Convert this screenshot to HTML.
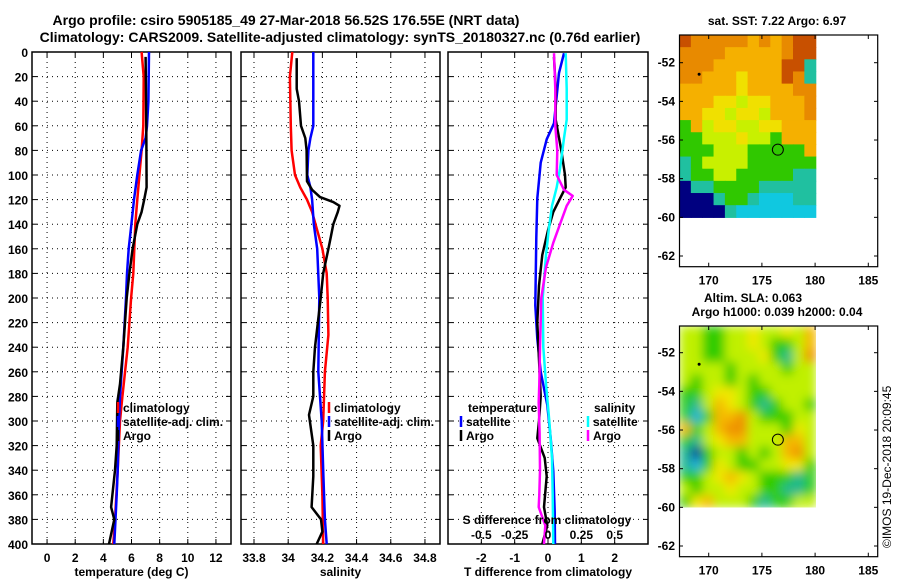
<!DOCTYPE html>
<html><head><meta charset="utf-8">
<style>
html,body{margin:0;padding:0;background:#fff;}
svg{display:block;font-family:"Liberation Sans",sans-serif;font-weight:bold;}
</style></head>
<body>
<svg id="fig" width="900" height="580" viewBox="0 0 900 580" xmlns="http://www.w3.org/2000/svg">
<g id="g"></g>
<text x="286" y="25" font-size="14" text-anchor="middle">Argo profile: csiro 5905185_49 27-Mar-2018 56.52S 176.55E (NRT data)</text>
<text x="340" y="42" font-size="14" text-anchor="middle">Climatology: CARS2009. Satellite-adjusted climatology: synTS_20180327.nc (0.76d earlier)</text>
<text x="777" y="25" font-size="12" text-anchor="middle">sat. SST: 7.22 Argo: 6.97</text>
<text x="753" y="302" font-size="12" text-anchor="middle">Altim. SLA: 0.063</text>
<text x="777" y="316" font-size="12" text-anchor="middle">Argo h1000: 0.039 h2000: 0.04</text>
<text transform="translate(891,548) rotate(-90)" font-size="12" font-weight="normal">©IMOS 19-Dec-2018 20:09:45</text>
</svg>
<script>
// ---- data ----
var depthTempClim=[0,20,60,80,100,120,140,160,180,200,240,280,300,340,380,400];
var tempClim=[6.72,6.87,6.84,6.72,6.56,6.41,6.27,6.2,6.13,5.97,5.73,5.35,5.18,5.02,4.83,4.71];
var depthTempSat=[0,40,60,70,80,100,120,140,160,180,200,240,280,300,340,360,400];
var tempSat=[7.24,7.2,7.1,7.0,6.68,6.41,6.18,5.99,5.8,5.68,5.61,5.42,5.18,5.11,5.02,4.95,4.78];
var depthTempArgo=[4,60,110,120,130,140,160,180,200,240,270,285,320,340,360,370,380,400];
var tempArgo=[7.0,7.05,7.07,6.9,6.72,6.41,6.08,5.85,5.66,5.42,5.18,4.99,4.95,4.83,4.64,4.55,4.78,4.4];

var depthSalClim=[0,20,60,80,100,110,120,130,140,160,180,200,230,260,300,320,360,400];
var salClim=[34.024,34.01,34.015,34.02,34.04,34.07,34.11,34.14,34.16,34.2,34.225,34.231,34.235,34.215,34.205,34.19,34.2,34.205];
var depthSalSat=[0,60,70,80,100,110,120,140,160,200,260,300,340,380,400];
var salSat=[34.147,34.147,34.13,34.118,34.112,34.13,34.14,34.15,34.17,34.182,34.176,34.196,34.205,34.215,34.225];
var depthSalArgo=[5,30,40,60,70,80,105,112,118,122,125,130,140,150,160,180,200,240,260,280,295,320,345,370,380,390,400];
var salArgo=[34.05,34.05,34.063,34.075,34.1,34.108,34.11,34.14,34.186,34.264,34.30,34.29,34.264,34.25,34.235,34.205,34.19,34.157,34.147,34.147,34.122,34.147,34.147,34.137,34.192,34.2,34.167];

var depthDTSat=[1,17,58,71,90,119,151,206,233,260,287,314,341,374,400];
var dTSat=[0.48,0.33,0.18,-0.04,-0.22,-0.32,-0.35,-0.38,-0.32,-0.22,-0.02,0.08,0.16,0.2,0.21];
var depthDTArgo=[4,30,55,62,80,100,110,118,130,145,165,190,220,250,280,300,314,330,345,370,385,400];
var dTArgo=[0.18,0.23,0.23,0.28,0.4,0.51,0.53,0.38,0.16,0,-0.17,-0.27,-0.32,-0.27,-0.22,-0.27,-0.32,-0.1,-0.04,-0.12,-0.02,-0.17];
var depthDSSat=[1,30,55,70,95,110,125,145,165,200,240,270,300,330,360,400];
var dSSat=[0.133,0.14,0.14,0.12,0.09,0.065,0.03,0.005,-0.015,-0.04,-0.035,-0.015,0.01,0.03,0.035,0.04];
var depthDSArgo=[1,30,60,80,100,112,117,125,140,155,175,200,240,270,285,310,340,360,370,385,400];
var dSArgo=[0.045,0.055,0.055,0.07,0.065,0.12,0.185,0.14,0.09,0.04,-0.015,-0.05,-0.06,-0.065,-0.07,-0.063,-0.06,-0.065,-0.07,-0.02,-0.03];

var depthTicks=[0,20,40,60,80,100,120,140,160,180,200,220,240,260,280,300,320,340,360,380,400];
var tempTicks=[0,2,4,6,8,10,12];
var salTicks=[33.8,34,34.2,34.4,34.6,34.8];
var salTickLabels=["33.8","34","34.2","34.4","34.6","34.8"];
var dTTicks=[-2,-1,0,1,2];
var dSTicks=[-0.5,-0.25,0,0.25,0.5];
var latTicks=[-52,-54,-56,-58,-60,-62];
var lonTicks=[170,175,180,185];

var sstGrid=["ROOOOOAOAORR","OOOOAAAAAORR","OOOAAAAAARRT","OOAAAYAAAROT","AAAAAYAAAAOO","AAAYYLYYAAAO","AAYYLYYLAAAO","GALYYLLYYAAA","GGLLLYLLGAAA","GGGLLLGGGGGA","TGLLLLGGGGGG","TGGLLGGGGGTT","BTTGGGGTTTTT","BBBTGGTCCCTT","BBBBTCCCCCCC"];
var slaGrid=["LLGGLLYLLYLA","LLGGLLYLGGLA","LLGGLLLYGTLO","LLLLGLLLLGLL","LGLLGLGLLLLL","GGLYYLGGLLLL","GTLAYLGTGLLG","GCGAAOLGGGLL","AGLAOOLLLGYL","GTLYAALLLAAL","TBGLLGLGLAOL","TCGYLGGLLYYG","GGLYAYLGGGTG","LGLLYLLGGTTG","GYALLLGTGGLL"];

// ---- drawing ----
var NS="http://www.w3.org/2000/svg";
var G=document.getElementById('g');
function mk(tag,attrs,parent){var e=document.createElementNS(NS,tag);for(var k in attrs)e.setAttribute(k,attrs[k]);(parent||G).appendChild(e);return e;}
var y0=52,ypx=1.23;
function yD(d){return y0+d*ypx;}

function panel(name,x0,x1,vmin,vmax,xticks,xlabels,xtitle,showDepth){
  function xs(v){return x0+(v-vmin)/(vmax-vmin)*(x1-x0);}
  var grp=mk('g',{});
  
  
  depthTicks.forEach(function(d){
    var y=yD(d);
    if(d>0&&d<400){var l=mk('line',{x1:x0,x2:x1,y1:y,y2:y,stroke:'#000','stroke-width':1,'stroke-dasharray':'1,4'},grp);
    }
    mk('line',{x1:x0,x2:x0+5,y1:y,y2:y,stroke:'#000'},grp);
    mk('line',{x1:x1-5,x2:x1,y1:y,y2:y,stroke:'#000'},grp);
    if(showDepth){var t=mk('text',{x:x0-4,y:y+5,'font-size':12,'text-anchor':'end'},grp);t.textContent=d;
    }
  });
  xticks.forEach(function(v,i){
    var x=xs(v);
    var l=mk('line',{x1:x,x2:x,y1:y0,y2:yD(400),stroke:'#000','stroke-dasharray':'1,4'},grp);
    
    mk('line',{x1:x,x2:x,y1:yD(400)-5,y2:yD(400),stroke:'#000'},grp);
    mk('line',{x1:x,x2:x,y1:y0,y2:y0+5,stroke:'#000'},grp);
    var t=mk('text',{x:x,y:562,'font-size':12,'text-anchor':'middle'},grp);t.textContent=xlabels[i];
    
  });
  var tt=mk('text',{x:(x0+x1)/2,y:576,'font-size':12,'text-anchor':'middle'},grp);tt.textContent=xtitle;
  
  var fr=mk('rect',{x:x0,y:y0,width:x1-x0,height:yD(400)-y0,fill:'none',stroke:'#000','stroke-width':1.5},grp);
  
  return {xs:xs,g:grp};
}
function line(p,depths,vals,color,name,w,scale){
  var pts=depths.map(function(d,i){return p.xs(vals[i]*(scale||1)).toFixed(1)+','+yD(d).toFixed(1);}).join(' ');
  var l=mk('polyline',{points:pts,fill:'none',stroke:color,'stroke-width':w||2.5,'stroke-linejoin':'round'},p.g);
  
  
}
function legend(p,x,y,color,label){
  mk('line',{x1:x,x2:x,y1:y-10,y2:y+1,stroke:color,'stroke-width':2.5},p.g);
  var t=mk('text',{x:x+5,y:y,'font-size':12},p.g);t.textContent=label;
  
  
}

var p1=panel('temperature-panel',32,231,-1.07,13.07,tempTicks,tempTicks.map(String),'temperature (deg C)',true);
line(p1,depthTempClim,tempClim,'#f00','temp-climatology-line');
line(p1,depthTempSat,tempSat,'#00f','temp-satellite-line');
line(p1,depthTempArgo,tempArgo,'#000','temp-argo-line');
legend(p1,118,412,'#f00','climatology');
legend(p1,118,426,'#00f','satellite-adj. clim.');
legend(p1,118,440,'#000','Argo');

var p2=panel('salinity-panel',241,440,33.724,34.888,salTicks,salTickLabels,'salinity',false);
line(p2,depthSalClim,salClim,'#f00','sal-climatology-line');
line(p2,depthSalSat,salSat,'#00f','sal-satellite-line');
line(p2,depthSalArgo,salArgo,'#000','sal-argo-line');
legend(p2,329,412,'#f00','climatology');
legend(p2,329,426,'#00f','satellite-adj. clim.');
legend(p2,329,440,'#000','Argo');

var p3=panel('difference-panel',448,648,-3,3,dTTicks,dTTicks.map(String),'T difference from climatology',false);
line(p3,depthDTSat,dTSat,'#00f','dT-satellite-line');
line(p3,depthDTArgo,dTArgo,'#000','dT-argo-line');
line(p3,depthDSSat,dSSat,'#0ff','dS-satellite-line',2.5,4);
line(p3,depthDSArgo,dSArgo,'#f0f','dS-argo-line',2.5,4);
var st=mk('text',{x:547,y:524,'font-size':12,'text-anchor':'middle'},p3.g);st.textContent='S difference from climatology';

dSTicks.forEach(function(v){var t=mk('text',{x:p3.xs(v*4),y:539,'font-size':12,'text-anchor':'middle'},p3.g);t.textContent=String(v);
});
var tl=mk('text',{x:468,y:412,'font-size':12},p3.g);tl.textContent='temperature';

legend(p3,461,426,'#00f','satellite');
legend(p3,461,440,'#000','Argo');
var sl=mk('text',{x:594,y:412,'font-size':12},p3.g);sl.textContent='salinity';

legend(p3,588,426,'#0ff','satellite');
legend(p3,588,440,'#f0f','Argo');

// ---- maps ----
var pal={R:'#c85000',O:'#e88a00',A:'#f5b000',Y:'#f0e000',L:'#c8f000',G:'#30c800',T:'#20c0a0',C:'#10c8e0',B:'#000080'};
var pal2={L:'#c0f000',G:'#30cc00',Y:'#f0e800',A:'#f5b800',O:'#ee9000',T:'#20b890',C:'#20b0e0',B:'#0030a0'};
var defs=mk('defs',{});
var f=mk('filter',{id:'blur',x:'-10%',y:'-10%',width:'120%',height:'120%'},defs);
mk('feGaussianBlur',{stdDeviation:5},f);
var cp=mk('clipPath',{id:'clip2'},defs);
mk('rect',{x:679.5,y:326,width:136.5,height:181.5},cp);

function map(name,ytop,ybot,y52,grid,palette,blur){
  var grp=mk('g',{});
  
  
  var lon=function(v){return 708.7+(v-170)*10.64;};
  var lat=function(v){return y52+(-52-v)*19.33;};
  var img=mk('g',blur?{'clip-path':'url(#clip2)'}:{},grp);
  var inner=mk('g',blur?{filter:'url(#blur)'}:{},img);
  var x0=679.5,cw=(815.7-x0)/12,ch=(lat(-60)-ytop)/grid.length;
  grid.forEach(function(row,r){for(var c=0;c<row.length;c++){
    mk('rect',{x:x0+c*cw,y:ytop+r*ch,width:cw+0.6,height:ch+0.6,fill:palette[row[c]]},inner);}});
  var fr=mk('rect',{x:679.5,y:ytop,width:198.2,height:ybot-ytop,fill:'none',stroke:'#000','stroke-width':1.2},grp);
  
  latTicks.forEach(function(v){var y=lat(v);
    mk('line',{x1:679,x2:683,y1:y,y2:y,stroke:'#000'},grp);mk('line',{x1:874,x2:878,y1:y,y2:y,stroke:'#000'},grp);
    var t=mk('text',{x:675,y:y+4,'font-size':12,'text-anchor':'end'},grp);t.textContent=String(v);
    });
  lonTicks.forEach(function(v){var x=lon(v);
    mk('line',{x1:x,x2:x,y1:ybot-4,y2:ybot,stroke:'#000'},grp);mk('line',{x1:x,x2:x,y1:ytop,y2:ytop+4,stroke:'#000'},grp);
    var t=mk('text',{x:x,y:ybot+18,'font-size':12,'text-anchor':'middle'},grp);t.textContent=String(v);
    });
  var c=mk('circle',{cx:lon(176.5),cy:lat(-56.5),r:5.5,fill:'none',stroke:'#000','stroke-width':1},grp);
  
  mk('circle',{cx:lon(169.1),cy:lat(-52.6),r:1.5,fill:'#000'},grp);
}
map('sst-map',35,266.7,62.7,sstGrid,pal,false);
map('sla-map',326,556.7,352.7,slaGrid,pal2,true);
</script>
</body></html>
